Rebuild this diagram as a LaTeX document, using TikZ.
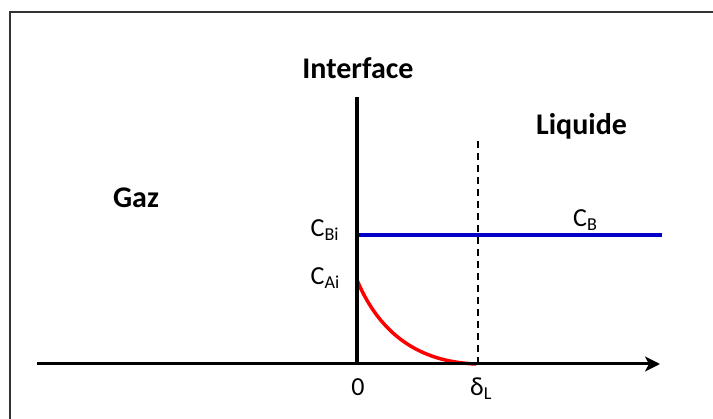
\documentclass[tikz,border=0pt]{standalone}
\usepackage{fontspec}
\setmainfont{Carlito}
\usetikzlibrary{arrows.meta}
\begin{document}
\begin{tikzpicture}[x=1pt,y=-1pt,
  bigbold/.style={font=\fontsize{30}{32}\selectfont\bfseries, inner sep=0pt, anchor=base},
  lab/.style={font=\fontsize{26}{28}\selectfont, inner sep=0pt, anchor=base west},
  axlab/.style={font=\fontsize{26}{28}\selectfont, inner sep=0pt},
  axis/.style={line width=3pt, -{Stealth[length=15pt,width=15pt,inset=4pt]}},
  iface/.style={line width=4pt},
  dashline/.style={line width=1.5pt, dash pattern=on 7pt off 5pt},
  conc/.style={line width=3.5pt}]
\useasboundingbox (0,0) rectangle (713,419);
\draw[line width=1.5pt, black!80] (10,12) rectangle (730,440);
% coordinates
\coordinate (ax0) at (37,364);
\coordinate (ax1) at (660,364);
\coordinate (if0) at (357,364);
\coordinate (if1) at (357,97);
\coordinate (dl0) at (478,364);
\coordinate (dl1) at (478,140);
\coordinate (cb0) at (357,235);
\coordinate (cb1) at (662,235);
\coordinate (ca0) at (357,280);
\coordinate (ca1) at (476,364);
% lines
\draw[dashline] (dl0) -- (dl1);
\draw[conc, draw={rgb,255:red,0;green,0;blue,200}] (cb0) -- (cb1);
\draw[conc, red, line cap=round] (ca0) .. controls (380,335) and (420,362) .. (ca1);
\draw[iface] (if0) -- (if1);
\draw[axis] (ax0) -- (ax1);
% labels
\node[bigbold] (interface) at (358,78.5) {Interface};
\node[bigbold] (liquide) at (581.5,135) {Liquide};
\node[bigbold] (gaz) at (136,208) {Gaz};
\node[lab] (cbi) at (310.5,237) {C\textsubscript{Bi}};
\node[lab] (cai) at (310.5,285) {C\textsubscript{Ai}};
\node[lab] (cb) at (573,227) {C\textsubscript{B}};
\node[axlab, anchor=base] (zero) at (358,396) {0};
\node[axlab, anchor=base west] (dl) at (470,396) {δ\textsubscript{L}};
\end{tikzpicture}
\end{document}
